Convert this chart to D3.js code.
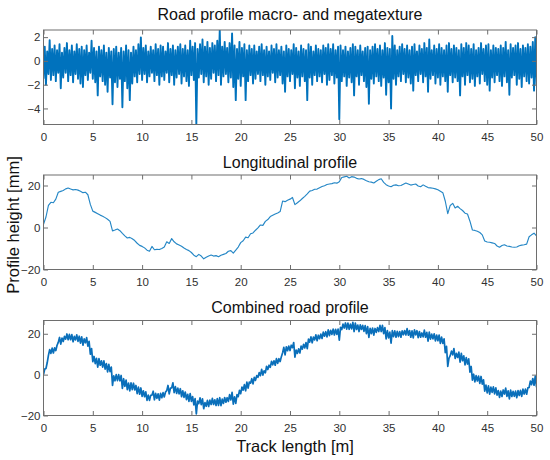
<!DOCTYPE html>
<html><head><meta charset="utf-8">
<script src="https://cdn.jsdelivr.net/npm/d3@7"></script>
<style>
body{margin:0;background:#fff}
svg{display:block}
text{font-family:"Liberation Sans",Arial,Helvetica,sans-serif}
</style>
</head><body>
<svg id="chart" width="550" height="460"></svg>
<script>
// ---------- data ----------
// sampling grid along the track, 0.25 m step (0 ... 50 m)
const trackX = d3.range(0, 201).map(i => i * 0.25);

// longitudinal profile [mm], one value per grid point
const longitudinal = [
  1.5, 5.0, 10.5, 12.0,
  11.8, 13.5, 16.8, 17.2,
  17.6, 18.4, 18.8, 18.3,
  17.9, 18.1, 17.8, 17.3,
  16.6, 16.8, 15.6, 11.0,
  7.8, 7.2, 6.6, 5.9,
  5.4, 4.7, 3.9, 2.9,
  -1.6, -1.2, -0.7, -1.5,
  -2.8, -4.0, -5.0, -4.7,
  -5.4, -6.2, -7.5, -8.5,
  -9.0, -9.7, -10.8, -11.3,
  -9.0, -10.6, -10.4, -10.5,
  -10.0, -9.3, -6.8, -7.6,
  -5.3, -6.8, -7.8, -8.3,
  -8.9, -9.8, -10.5, -11.0,
  -11.9, -13.2, -13.9, -12.8,
  -13.6, -14.9, -14.2, -13.6,
  -13.1, -13.6, -13.4, -13.9,
  -13.2, -12.8, -12.4, -11.3,
  -11.0, -12.2, -10.8, -9.3,
  -7.2, -6.3, -4.6, -4.9,
  -3.0, -2.6, -1.3, -0.2,
  1.2, 1.0, 2.9, 3.8,
  5.2, 5.8, 6.4, 6.9,
  7.6, 12.6, 12.3, 13.0,
  13.5, 14.3, 10.9, 11.8,
  12.7, 13.8, 14.8, 16.0,
  17.3, 17.6, 18.2, 18.3,
  18.9, 19.5, 19.9, 20.5,
  20.7, 20.9, 21.3, 21.1,
  21.8, 23.8, 24.1, 24.4,
  23.6, 24.2, 24.0, 23.4,
  23.1, 23.3, 22.9, 22.3,
  21.8, 21.6, 21.2, 22.0,
  22.8, 23.2, 21.5, 20.4,
  19.8, 19.4, 20.1, 20.3,
  19.9, 20.0, 20.6, 21.2,
  20.7, 20.2, 20.5, 20.7,
  19.8, 19.4, 20.3, 19.6,
  19.0, 18.9, 18.7, 18.4,
  18.0, 17.3, 16.6, 12.5,
  6.6, 10.5, 11.5, 9.3,
  10.1, 9.0, 8.1, 6.8,
  6.4, 3.0, -1.2, -1.4,
  -1.8, -2.4, -3.5, -6.4,
  -6.9, -7.0, -7.3, -7.6,
  -8.8, -9.4, -8.6, -8.2,
  -8.8, -9.0, -9.3, -9.4,
  -9.3, -8.7, -8.4, -8.2,
  -7.9, -4.4, -3.5, -2.7,
  -4.0
];

// macro/megatexture [mm]: lowest and highest excursion within each 0.25 m cell
const textureLo = [
  -1.5, -2.0, -1.1, -1.6,  -1.2, -1.7, -1.0, -2.3,  -1.4, -1.0, -1.7, -1.2,
  -1.8, -1.1, -1.5, -1.9,  -2.2, -1.2, -1.6, -1.0,  -1.5, -1.8, -2.9, -1.3,
  -1.7, -2.0, -2.6, -1.4,  -3.65, -1.8, -2.2, -1.5, -3.9, -1.7, -2.3, -3.3,
  -1.9, -1.3, -1.8, -1.1,  -1.6, -1.1, -1.8, -1.3,  -1.0, -1.7, -1.2, -2.0,
  -1.3, -1.6, -1.0, -1.8,  -1.2, -2.0, -1.4, -1.1,  -1.9, -1.3, -1.7, -2.1,
  -1.2, -1.6, -5.35, -1.4, -1.1, -1.8, -1.3, -2.0,  -1.5, -1.0, -1.7, -1.2,
  -2.0, -1.3, -1.1, -1.8,  -1.4, -2.2, -3.3, -1.5,  -2.1, -1.3, -3.3, -1.7,
  -1.2, -1.9, -1.5, -1.1,  -1.7, -1.2, -2.0, -1.3,  -1.6, -1.0, -1.8, -1.4,
  -1.2, -1.9, -2.6, -1.3,  -1.7, -1.1, -2.3, -1.4,  -2.1, -1.3, -1.7, -3.3,
  -1.4, -2.0, -1.2, -1.7,  -1.3, -1.8, -1.1, -2.0,  -1.6, -1.2, -1.9, -1.4,
  -4.9, -1.7, -1.3, -2.1,  -1.4, -1.8, -2.9, -1.3,  -2.0, -1.2, -1.7, -2.2,
  -3.6, -1.5, -1.9, -1.3,  -1.7, -2.1, -1.4, -2.85, -1.8, -4.0, -1.5, -2.0,
  -1.3, -1.7, -1.1, -1.8,  -1.4, -1.9, -2.5, -1.2,  -1.7, -1.1, -1.8, -1.3,
  -2.6, -1.5, -1.2, -1.9,  -1.4, -2.0, -1.3, -1.7,  -2.6, -1.2, -1.8, -1.4,
  -1.7, -2.9, -1.3, -2.0,  -1.2, -1.8, -1.5, -2.1,  -1.3, -1.9, -1.1, -1.7,
  -2.0, -2.5, -1.4, -1.8,  -1.2, -1.7, -2.1, -1.3,  -1.8, -2.85, -1.4, -1.2,
  -2.0, -1.5, -2.2, -1.3,  -1.7, -1.9, -1.4, -2.5,
  -2.0
];
const textureHi = [
  1.2, 0.8, 1.75, 1.0,  1.3, 0.9, 1.4, 0.7,  1.1, 1.5, 0.9, 1.3,
  0.8, 1.4, 1.0, 1.2,   0.9, 1.3, 0.7, 1.7,  1.1, 0.8, 1.2, 0.9,
  1.3, 0.7, 1.1, 0.8,   1.0, 1.2, 0.7, 1.1,  0.8, 1.3, 0.9, 0.7,
  1.2, 0.9, 1.4, 1.98,  1.1, 1.3, 0.8, 1.2,  0.9, 1.4, 1.0, 1.3,
  1.2, 0.8, 1.5, 1.0,   1.3, 0.9, 1.2, 1.4,  1.0, 1.3, 0.9, 1.7,
  1.2, 1.5, 1.0, 1.4,   1.8, 1.2, 1.6, 1.1,  1.5, 1.3, 1.7, 2.6,
  1.2, 1.6, 1.1, 1.5,   2.3, 1.3, 1.0, 1.6,  1.1, 1.4, 0.9, 1.3,
  1.0, 1.3, 0.8, 1.2,   1.4, 0.9, 1.2, 0.8,  1.3, 1.0, 1.4, 0.9,
  1.2, 0.8, 1.3, 1.0,   0.9, 1.4, 1.1, 0.8,  1.3, 1.0, 0.9, 1.4,
  1.2, 0.8, 1.3, 1.0,   0.9, 1.3, 1.1, 1.4,  1.0, 1.4, 0.9, 1.2,
  1.3, 0.9, 1.2, 0.8,   1.1, 1.4, 1.2, 0.9,  1.3, 0.8, 1.1, 1.2,
  0.9, 1.2, 1.4, 1.0,   1.3, 0.9, 1.5, 1.1,  1.0, 2.1, 1.3, 0.9,
  1.2, 1.4, 1.0, 1.3,   0.9, 1.2, 1.4, 0.8,  1.3, 1.0, 1.5, 1.1,
  1.8, 0.9, 1.3, 1.0,   1.4, 1.1, 0.9, 1.3,  1.5, 1.0, 1.3, 1.1,
  0.9, 1.4, 1.1, 1.5,   1.3, 1.0, 1.4, 0.9,  1.1, 1.5, 1.0, 1.3,
  1.4, 0.9, 1.3, 1.1,   1.0, 1.3, 1.1, 1.6,  0.9, 1.4, 1.1, 1.3,
  1.5, 1.0, 1.3, 1.1,   1.4, 1.2, 1.6, 2.0,
  1.3
];

const xTicks = [0, 5, 10, 15, 20, 25, 30, 35, 40, 45, 50];
const texTicks = [-4, -2, 0, 2];
const profTicks = [-20, 0, 20];
const titles = ["Road profile macro- and megatexture", "Longitudinal profile", "Combined road profile"];
const xDomain = [0, 50];
const yDomains = [[-5.35, 2.6], [-20, 25], [-20, 26.5]];
const xLabel = "Track length [m]";
const yLabel = "Profile height [mm]";

// ---------- derived series ----------
const half = 0.125;
const textureSeries = trackX.flatMap((x, i) => [
  {x: x, y: textureLo[i]}, {x: x + half, y: textureHi[i]}
]);
const longSeries = trackX.map((x, i) => ({x: x, y: longitudinal[i]}));
const combinedSeries = trackX.flatMap((x, i) => [
  {x: x, y: longitudinal[i] + textureLo[i]}, {x: x + half, y: longitudinal[i] + textureHi[i]}
]);

// ---------- layout ----------
const svg = d3.select("#chart");
const left = 43.5, right = 536.5;
const panels = [
  {top: 30,    bottom: 124.5, titleY: 19.5,  data: textureSeries,  ticks: texTicks,  color: "#0072BD", width: 1.9},
  {top: 175,   bottom: 269.5, titleY: 168,   data: longSeries,     ticks: profTicks, color: "#2587c6", width: 1.15},
  {top: 320.5, bottom: 415.5, titleY: 312.5, data: combinedSeries, ticks: profTicks, color: "#0a6fba", width: 1.7}
];
const x = d3.scaleLinear().domain(xDomain).range([left, right]);
const axisColor = "#6e6e6e", labelColor = "#303030";

panels.forEach((p, k) => {
  const y = d3.scaleLinear().domain(yDomains[k]).range([p.bottom, p.top]);
  const g = svg.append("g");
  const clipId = "clip" + k;
  svg.append("clipPath").attr("id", clipId).append("rect")
    .attr("x", left).attr("y", p.top).attr("width", right - left).attr("height", p.bottom - p.top);

  const line = d3.line().x(d => x(d.x)).y(d => y(d.y));
  g.append("path").datum(p.data)
    .attr("clip-path", `url(#${clipId})`)
    .attr("fill", "none").attr("stroke", p.color)
    .attr("stroke-width", p.width).attr("stroke-linejoin", "round")
    .attr("d", line);

  const styleAxis = sel => {
    sel.select(".domain").remove();
    sel.selectAll("line").attr("stroke", axisColor);
    sel.selectAll("text").attr("fill", labelColor).style("font-size", "11.5px");
  };
  g.append("g").attr("transform", `translate(0,${p.bottom})`)
    .call(d3.axisBottom(x).tickValues(xTicks).tickSizeInner(-4.5).tickSizeOuter(0).tickPadding(8.5))
    .call(styleAxis);
  g.append("g").attr("transform", `translate(0,${p.top})`)
    .call(d3.axisTop(x).tickValues(xTicks).tickSizeInner(-4.5).tickSizeOuter(0).tickFormat(""))
    .call(styleAxis);
  g.append("g").attr("transform", `translate(${left},0)`)
    .call(d3.axisLeft(y).tickValues(p.ticks).tickSizeInner(-4.5).tickSizeOuter(0).tickPadding(3))
    .call(styleAxis);
  g.append("g").attr("transform", `translate(${right},0)`)
    .call(d3.axisRight(y).tickValues(p.ticks).tickSizeInner(-4.5).tickSizeOuter(0).tickFormat(""))
    .call(styleAxis);

  g.append("rect").attr("x", left).attr("y", p.top)
    .attr("width", right - left).attr("height", p.bottom - p.top)
    .attr("fill", "none").attr("stroke", axisColor).attr("stroke-width", 1);

  g.append("text").attr("x", (left + right) / 2).attr("y", p.titleY)
    .attr("text-anchor", "middle").attr("fill", "#111").style("font-size", "16px")
    .text(titles[k]);
});

svg.append("text").attr("x", 295).attr("y", 452)
  .attr("text-anchor", "middle").attr("fill", "#111").style("font-size", "16.5px").text(xLabel);
svg.append("text").attr("transform", "translate(19,225) rotate(-90)")
  .attr("text-anchor", "middle").attr("fill", "#111").style("font-size", "16.5px").text(yLabel);
</script>
</body></html>
